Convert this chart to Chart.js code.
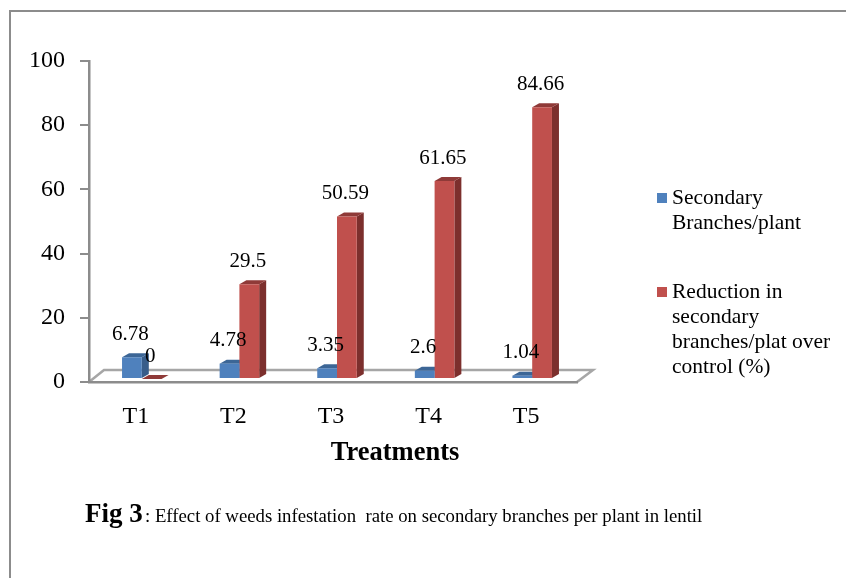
<!DOCTYPE html>
<html>
<head>
<meta charset="utf-8">
<style>html,body{margin:0;padding:0;background:#fff}canvas{display:block}</style>
<script src="https://cdn.jsdelivr.net/npm/chart.js@4"></script>
</head>
<body>
<canvas id="c" width="846" height="578"></canvas>
<script>
const categories = ['T1','T2','T3','T4','T5'];
const branches = [6.78,4.78,3.35,2.6,1.04];
const reduction = [0,29.5,50.59,61.65,84.66];
const legendBranches = ['Secondary','Branches/plant'];
const legendReduction = ['Reduction in','secondary','branches/plat over','control (%)'];
const axisTitle = 'Treatments';
const captionBold = 'Fig 3';
const captionRest = ': Effect of weeds infestation  rate on secondary branches per plant in lentil';

const SERIF = '"Liberation Serif", serif';
const GREY = '#8c8c8c';
const DX = 7, DY = 4, SHIFT_X = 4, SHIFT_Y = -3;
const shades = [
  {front:'#4f81bd', top:'#3c6696', side:'#385d8a'},
  {front:'#c0504d', top:'#8f3a38', side:'#7c2f2d'}
];

const scene = {
  id:'scene',
  beforeDraw(chart){
    const c = chart.ctx, a = chart.chartArea;
    c.save();
    c.fillStyle='#fff'; c.fillRect(0,0,chart.width,chart.height);
    c.strokeStyle=GREY; c.lineWidth=2;
    c.beginPath(); c.moveTo(10,578); c.lineTo(10,11); c.lineTo(846,11); c.stroke();
    c.strokeStyle='#a6a6a6'; c.lineWidth=2.5;
    c.beginPath();
    c.moveTo(a.left,a.bottom); c.lineTo(a.left+15,a.bottom-12);
    c.lineTo(a.right+16,a.bottom-12); c.lineTo(a.right,a.bottom);
    c.stroke();
    c.restore();
  },
  beforeDatasetsDraw(chart){
    const c = chart.ctx;
    c.save();
    c.translate(SHIFT_X,SHIFT_Y);
    chart.data.datasets.forEach((d,i)=>{
      chart.getDatasetMeta(i).data.forEach(b=>{
        const l=b.x-b.width/2, r=b.x+b.width/2, t=b.y, bt=b.base;
        c.fillStyle=shades[i].side;
        c.beginPath();c.moveTo(r,t);c.lineTo(r+DX,t-DY);c.lineTo(r+DX,bt-DY);c.lineTo(r,bt);c.closePath();c.fill();
        c.fillStyle=shades[i].top;
        c.beginPath();c.moveTo(l,t);c.lineTo(l+DX,t-DY);c.lineTo(r+DX,t-DY);c.lineTo(r,t);c.closePath();c.fill();
      });
    });
  },
  afterDatasetsDraw(chart){
    const c = chart.ctx;
    c.fillStyle='#000';
    c.font='21px '+SERIF;
    c.textAlign='center'; c.textBaseline='middle';
    chart.data.datasets.forEach((d,i)=>{
      chart.getDatasetMeta(i).data.forEach((b,j)=>{
        c.fillText(String(d.data[j]), b.x-1.5, b.y-23);
      });
    });
    c.restore();

    c.save();
    c.fillStyle='#000'; c.textBaseline='middle'; c.textAlign='left';
    const legend = [[legendBranches,198],[legendReduction,292]];
    legend.forEach(([lines,y0],i)=>{
      c.fillStyle=shades[i].front; c.fillRect(657,y0-5,10,10);
      c.fillStyle='#000'; c.font='21.5px '+SERIF;
      lines.forEach((t,k)=>c.fillText(t,672,y0+k*25));
    });
    c.textAlign='center';
    c.font='bold 26.5px '+SERIF;
    c.fillText(axisTitle,395,453);
    c.textAlign='left'; c.textBaseline='alphabetic';
    c.font='bold 27px '+SERIF;
    c.fillText(captionBold,85,522);
    c.font='18.75px '+SERIF;
    c.fillText(captionRest,145,522);
    c.restore();
  }
};

new Chart(document.getElementById('c'),{
  type:'bar',
  data:{labels:categories,datasets:[
    {label:legendBranches.join(' '),data:branches,backgroundColor:shades[0].front,categoryPercentage:0.405,barPercentage:1},
    {label:legendReduction.join(' '),data:reduction,backgroundColor:shades[1].front,categoryPercentage:0.405,barPercentage:1}
  ]},
  plugins:[scene],
  options:{
    responsive:false,animation:false,devicePixelRatio:1,
    layout:{padding:{left:0,top:61,right:269,bottom:110}},
    plugins:{legend:{display:false},title:{display:false},tooltip:{enabled:false}},
    datasets:{bar:{clip:false}},
    scales:{
      x:{
        grid:{display:false},
        border:{color:GREY,width:2.5},
        ticks:{color:'#000',font:{family:SERIF,size:24},padding:12,maxRotation:0,labelOffset:-2},
        afterFit(s){s.height=86;}
      },
      y:{
        min:0,max:100,
        grid:{drawOnChartArea:false,drawTicks:true,tickLength:9,color:GREY,lineWidth:2},
        border:{color:GREY,width:2.5},
        ticks:{stepSize:20,color:'#000',font:{family:SERIF,size:24},padding:15},
        afterFit(s){s.width=89;}
      }
    }
  }
});
</script>
</body>
</html>
